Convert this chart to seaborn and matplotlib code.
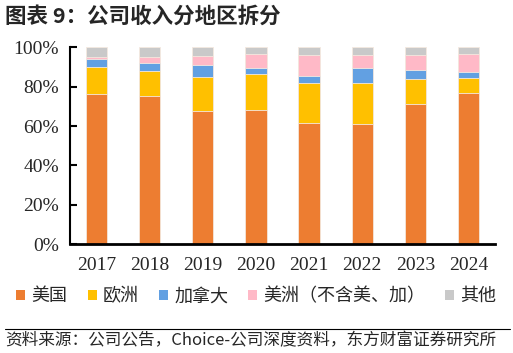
import numpy as np
import pandas as pd
import seaborn as sns
import matplotlib.pyplot as plt
from matplotlib.patches import Patch

# === data (% of revenue) ===
years = ["2017", "2018", "2019", "2020", "2021", "2022", "2023", "2024"]
usa = [76.1, 75.4, 67.5, 68.3, 61.7, 60.9, 71.1, 76.6]
europe = [14.0, 12.7, 17.4, 18.3, 20.3, 21.0, 12.7, 8.0]
canada = [4.2, 3.9, 6.1, 2.9, 3.6, 7.7, 4.8, 3.0]
americas_other = [1.0, 3.1, 4.4, 6.9, 10.5, 6.3, 7.5, 8.8]
other = [4.7, 4.9, 4.6, 3.6, 3.9, 4.1, 3.9, 3.6]

series_names = ["美国", "欧洲", "加拿大", "美洲（不含美、加）", "其他"]
colors = ["#ED7D31", "#FFC000", "#62A0E2", "#FFB9C7", "#C9C9C9"]

df = pd.DataFrame({"year": years, "美国": usa, "欧洲": europe, "加拿大": canada,
                   "美洲（不含美、加）": americas_other, "其他": other})

# cumulative totals -> draw tallest first so lower layers sit on top
cum = df[series_names].cumsum(axis=1)

sns.set_style("white")
plt.rcParams["font.family"] = ["Noto Sans CJK SC", "DejaVu Sans"]

fig = plt.figure(figsize=(5.13, 3.53), dpi=100)
ax = fig.add_axes([0.1365, 0.308, 0.8285, 0.558])

for name, col in reversed(list(zip(series_names, colors))):
    sns.barplot(x=df["year"], y=cum[name], color=col, width=0.4, ax=ax,
                edgecolor="#F4E9E0", linewidth=0.6, saturation=1)

ax.set_ylim(0, 100)
ax.set_xlim(-0.5, 7.5)
ax.set_yticks(np.arange(0, 101, 20))
ax.set_yticklabels([f"{v}%" for v in range(0, 101, 20)],
                   fontfamily="Liberation Serif", fontsize=14)
ax.set_xticks(range(len(years)))
ax.set_xticklabels(years, fontfamily="Liberation Serif", fontsize=14)
ax.set_xlabel("")
ax.set_ylabel("")
ax.tick_params(axis="y", direction="in", length=5, width=1.5, color="black", pad=8, left=True)
ax.tick_params(axis="x", length=0, pad=9)
sns.despine(ax=ax)
ax.spines["left"].set_color("black")
ax.spines["left"].set_linewidth(1.5)
ax.spines["bottom"].set_color("black")
ax.spines["bottom"].set_linewidth(2)

handles = [Patch(facecolor=c, edgecolor="none") for c in colors]
fig.legend(handles, series_names, loc="center", bbox_to_anchor=(0.5, 0.161),
           ncol=5, frameon=False, fontsize=13, handlelength=0.5, handleheight=0.5,
           handletextpad=0.35, columnspacing=1.1)

fig.text(0.01, 0.955, "图表 9：公司收入分地区拆分", fontsize=15.5, fontweight="bold",
         va="center", ha="left")
fig.add_artist(plt.Line2D([0.01, 0.995], [0.068, 0.068], color="black", lw=0.8))
fig.text(0.01, 0.035, "资料来源：公司公告，Choice-公司深度资料，东方财富证券研究所",
         fontsize=12, va="center", ha="left")

fig.savefig("out.png", dpi=100)
